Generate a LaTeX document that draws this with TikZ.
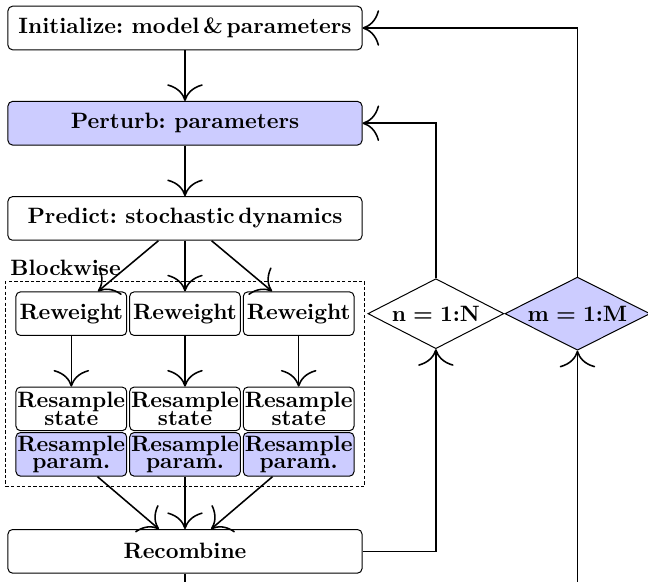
\documentclass[tikz,border=0pt]{standalone}
\usepackage{amsmath}
\usepackage{tikz}
\usetikzlibrary{arrows.meta}
\usetikzlibrary{shapes.geometric}
\usetikzlibrary{positioning}
\usetikzlibrary{calc,fit}
\frenchspacing
\tikzset{
    >={Computer Modern Rightarrow[length=7.5pt,width=16pt]},
    flow/.style={->, draw=black, line width=0.7pt},
    stepbox/.style={draw=black, line width=0.45pt, rounded corners=2pt,
        minimum width=159.3pt, minimum height=19.6pt, inner sep=1pt},
    blockbox/.style={stepbox, minimum width=49.8pt, inner xsep=0pt, align=center},
    paramfill/.style={fill=blue!20},
    loopnode/.style={diamond, draw=black, line width=0.45pt, inner sep=0pt,
        aspect=2, minimum width=61.2pt, minimum height=31.5pt, font=\bfseries\boldmath},
    blockwise/.style={draw=black, line width=0.4pt, dash pattern=on 1.5pt off 1pt,
        inner sep=4.5pt},
}

\begin{document}
\begin{tikzpicture}[x=0.45pt, y=-0.45pt, font=\bfseries, node distance=22.8pt]
\useasboundingbox (0,0) rectangle (648,582);
% main column
\node[stepbox] (init) at (185,28) {Initialize: model\,\&\,parameters};
\node[stepbox, paramfill, below=of init] (perturb) {Perturb: parameters};
\node[stepbox, below=of perturb] (predict) {Predict: stochastic\,dynamics};
% blockwise steps
\node[blockbox, below=of predict] (rw2) {Reweight};
\node[blockbox, left=0.9pt of rw2] (rw1) {Reweight};
\node[blockbox, right=0.9pt of rw2] (rw3) {Reweight};
\foreach \i in {1,2,3} {
    \node[blockbox, below=of rw\i] (st\i) {Resample\\[-4pt]state};
    \node[blockbox, paramfill, below=0.4pt of st\i] (pm\i) {Resample\\[-4pt]param.};
}
\node[blockwise, fit=(rw1)(pm3)] (block) {};
\node[anchor=base west, inner sep=0pt] (blocklbl) at ($(block.north west)+(5,-5)$) {Blockwise};
\node[stepbox, below=23.6pt of pm2] (recomb) {Recombine};
% loops
\node[loopnode, right=5.8pt of rw3] (nloop) {$\mathbf{n} = \mathbf{1}{:}\mathbf{N}$};
\node[loopnode, paramfill, right=0pt of nloop, minimum width=65.3pt,
    minimum height=32.9pt] (mloop) {$\mathbf{m} = \mathbf{1}{:}\mathbf{M}$};

\draw[flow] (init) -- (perturb);
\draw[flow] (perturb) -- (predict);
\foreach \i in {1,2,3} {
    \draw[flow] (predict) -- (rw\i);
    \draw[flow] (rw\i) -- (st\i);
    \draw[flow] (pm\i) -- (recomb);
}
\draw[flow] (recomb) -| (nloop);
\draw[flow] (nloop) |- (perturb);
\draw[flow] (mloop) |- (init);
\begin{scope}
    \clip (0,0) rectangle (648,582);
    \draw[flow] (recomb) -- ++(0,40) -| (mloop);
\end{scope}
\end{tikzpicture}
\end{document}
